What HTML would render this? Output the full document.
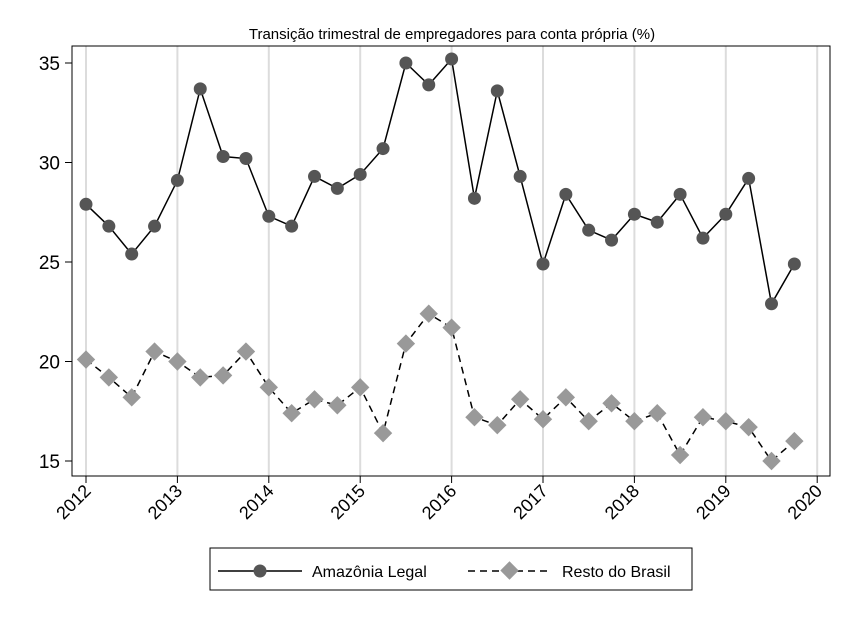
<!DOCTYPE html>
<html><head><meta charset="utf-8"><style>
body{margin:0;background:#fff;}
svg text{font-family:"Liberation Sans",Arial,sans-serif;}
</style></head><body>
<svg id="chart" width="852" height="620" xmlns="http://www.w3.org/2000/svg">
<rect width="852" height="620" fill="#fff"/>
<text x="452" y="39" font-size="15" text-anchor="middle">Transição trimestral de empregadores para conta própria (%)</text>
<g id="grid"></g>
<rect x="72" y="46" width="758" height="430" fill="none" stroke="#000" stroke-width="1"/>
<g id="axes"></g>
<g id="series"></g>
<g>
<rect x="210" y="548" width="482" height="42" fill="#fff" stroke="#000"/>
<g>
<line x1="218" y1="571" x2="302" y2="571" stroke="#000" stroke-width="1.5"/>
<circle cx="260" cy="571" r="6.5" fill="#555"/>
<text x="312" y="577" font-size="16">Amazônia Legal</text>
</g>
<g>
<line x1="468" y1="571" x2="552" y2="571" stroke="#000" stroke-width="1.5" stroke-dasharray="7,5"/>
<rect x="503" y="564" width="13" height="13" fill="#999" transform="rotate(45 509.5 570.5)"/>
<text x="562" y="577" font-size="16">Resto do Brasil</text>
</g>
</g>
</svg>
<script>
const years = [2012,2013,2014,2015,2016,2017,2018,2019,2020];
const yTicks = [15,20,25,30,35];
const amazonia = [27.9,26.8,25.4,26.8,29.1,33.7,30.3,30.2,27.3,26.8,29.3,28.7,29.4,30.7,35.0,33.9,35.2,28.2,33.6,29.3,24.9,28.4,26.6,26.1,27.4,27.0,28.4,26.2,27.4,29.2,22.9,24.9];
const resto = [20.1,19.2,18.2,20.5,20.0,19.2,19.3,20.5,18.7,17.4,18.1,17.8,18.7,16.4,20.9,22.4,21.7,17.2,16.8,18.1,17.1,18.2,17.0,17.9,17.0,17.4,15.3,17.2,17.0,16.7,15.0,16.0];
const NS="http://www.w3.org/2000/svg";
const xS = t => 86 + (t-2012)*91.4;
const yS = v => 63 + (35-v)*19.9;
function mk(tag, attrs, parent){const e=document.createElementNS(NS,tag);for(const k in attrs)e.setAttribute(k,attrs[k]);parent.appendChild(e);return e;}
const grid=document.getElementById('grid'), axes=document.getElementById('axes'), series=document.getElementById('series');
years.forEach(y=>{
  const g=mk('line',{x1:xS(y),x2:xS(y),y1:46,y2:476,stroke:'#dcdcdc','stroke-width':2},grid);
  
  
  mk('line',{x1:xS(y),x2:xS(y),y1:476,y2:483,stroke:'#000'},axes);
  const t=mk('text',{x:xS(y)+6,y:492,'font-size':18,'text-anchor':'end',transform:`rotate(-45 ${xS(y)+6} 492)`},axes);
  t.textContent=y;
  
  
});
yTicks.forEach(v=>{
  mk('line',{x1:65,x2:72,y1:yS(v),y2:yS(v),stroke:'#000'},axes);
  const t=mk('text',{x:60,y:yS(v)+7,'font-size':19,'text-anchor':'end'},axes);
  t.textContent=v;
  
  
});
function draw(data, dash, marker, name){
  const pts=data.map((v,i)=>[xS(2012+i*0.25),yS(v)]);
  const p=mk('polyline',{points:pts.map(p=>p.join(',')).join(' '),fill:'none',stroke:'#000','stroke-width':1.5,'stroke-dasharray':dash},series);
  
  
  pts.forEach(([x,y])=>{
    let m;
    if(marker==='c') m=mk('circle',{cx:x,cy:y,r:6.5,fill:'#555'},series);
    else m=mk('rect',{x:x-6.5,y:y-6.5,width:13,height:13,fill:'#999',transform:`rotate(45 ${x} ${y})`},series);
    
    
  });
}
draw(resto,'7,5','d','resto');
draw(amazonia,'none','c','amazonia');
</script>
</body></html>
